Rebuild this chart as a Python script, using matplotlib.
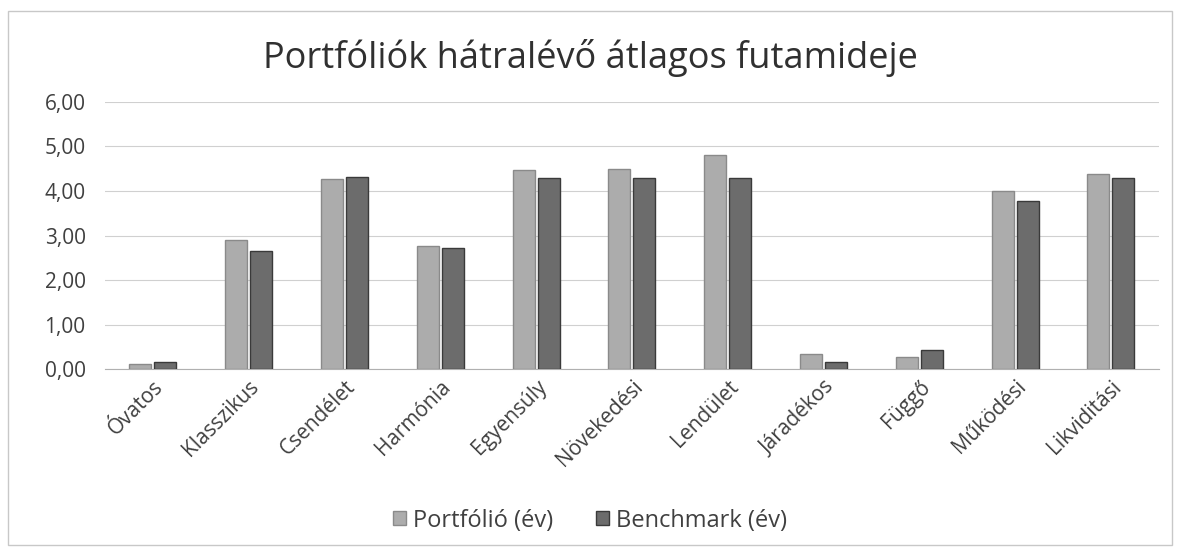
import matplotlib.pyplot as plt
import numpy as np
from matplotlib.ticker import FuncFormatter
from matplotlib.patches import Rectangle

plt.rcParams["font.family"] = ["Open Sans", "DejaVu Sans"]

categories = ["Óvatos", "Klasszikus", "Csendélet", "Harmónia", "Egyensúly",
              "Növekedési", "Lendület", "Járadékos", "Függő", "Működési", "Likviditási"]
portfolio = [0.12, 2.91, 4.27, 2.76, 4.47, 4.49, 4.80, 0.33, 0.27, 4.00, 4.38]
benchmark = [0.17, 2.66, 4.31, 2.72, 4.29, 4.29, 4.30, 0.15, 0.42, 3.78, 4.30]

fig = plt.figure(figsize=(11.8, 5.51), dpi=100)
ax = fig.add_axes([0.089, 0.33, 0.893, 0.485])

x = np.arange(len(categories))
w = 0.23
ax.bar(x - 0.13, portfolio, w, color="#acacac", edgecolor="#8a8a8a", linewidth=1,
       label="Portfólió (év)", zorder=3)
ax.bar(x + 0.13, benchmark, w, color="#6c6c6c", edgecolor="#3a3a3a", linewidth=1,
       label="Benchmark (év)", zorder=3)

ax.set_ylim(0, 6)
ax.set_xlim(-0.5, len(categories) - 0.5)
ax.set_yticks(np.arange(0, 7, 1))
ax.yaxis.set_major_formatter(FuncFormatter(lambda v, p: f"{v:.2f}".replace(".", ",")))
ax.grid(axis="y", color="#d0d0d0", linewidth=0.8, zorder=0)
for s in ["top", "right", "left"]:
    ax.spines[s].set_visible(False)
ax.spines["bottom"].set_color("#b0b0b0")
ax.tick_params(axis="y", length=0, labelsize=15, labelcolor="#404040", pad=14)
ax.tick_params(axis="x", length=0, labelsize=15, labelcolor="#404040", pad=5)
ax.set_xticks(x)
ax.set_xticklabels(categories, rotation=45, ha="right", rotation_mode="anchor")

fig.text(0.5, 0.895, "Portfóliók hátralévő átlagos futamideje", ha="center",
         va="center", fontsize=26, color="#303030")

fig.legend(loc="center", bbox_to_anchor=(0.5, 0.055), ncol=2, frameon=False,
           fontsize=17, labelcolor="#404040", handlelength=0.55, handleheight=0.55,
           columnspacing=1.8, handletextpad=0.3)

fig.patches.append(Rectangle((0.007, 0.01), 0.986, 0.97, transform=fig.transFigure,
                             fill=False, edgecolor="#c8c8c8", linewidth=1))

fig.savefig("out.png", dpi=100)
